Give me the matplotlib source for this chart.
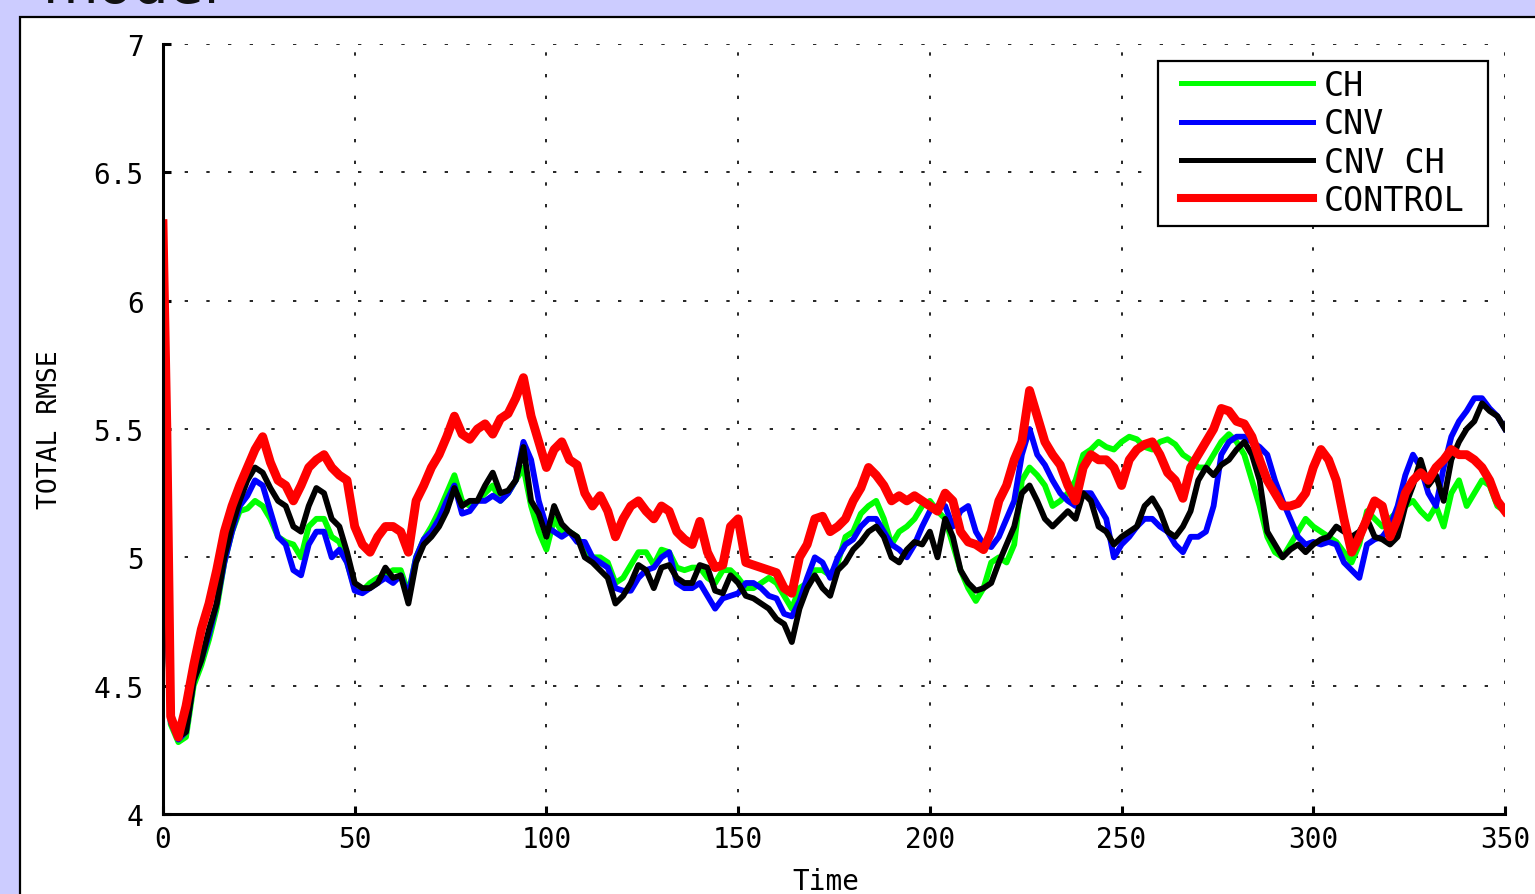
import numpy as np
import matplotlib.pyplot as plt
from matplotlib.patches import Rectangle

# Time axis: t = 0, 1, then every 2 steps up to 350
time = np.array([0, 1] + list(range(2, 351, 2)))

ch = [5.25, 4.80, 4.35, 4.28, 4.30, 4.50, 4.58, 4.68, 4.80, 4.98, 5.10, 5.18, 5.19, 5.22, 5.20,
      5.15, 5.08, 5.06, 5.05, 5.00, 5.12, 5.15, 5.15, 5.08, 5.06, 4.98, 4.88, 4.87, 4.90, 4.92,
      4.93, 4.95, 4.95, 4.86, 5.00, 5.07, 5.12, 5.18, 5.25, 5.32, 5.22, 5.20, 5.22, 5.25, 5.28,
      5.22, 5.25, 5.30, 5.35, 5.20, 5.10, 5.03, 5.15, 5.10, 5.10, 5.08, 5.03, 5.00, 5.00, 4.98,
      4.90, 4.92, 4.97, 5.02, 5.02, 4.97, 5.03, 5.02, 4.96, 4.95, 4.96, 4.96, 4.92, 4.90, 4.95,
      4.95, 4.92, 4.88, 4.88, 4.90, 4.92, 4.90, 4.85, 4.80, 4.88, 4.90, 4.95, 4.95, 4.93, 4.98,
      5.08, 5.10, 5.17, 5.20, 5.22, 5.15, 5.05, 5.10, 5.12, 5.15, 5.20, 5.22, 5.18, 5.15, 5.05,
      4.95, 4.88, 4.83, 4.88, 4.98, 5.00, 4.98, 5.05, 5.30, 5.35, 5.32, 5.28, 5.20, 5.22, 5.25,
      5.30, 5.40, 5.42, 5.45, 5.43, 5.42, 5.45, 5.47, 5.46, 5.43, 5.42, 5.45, 5.46, 5.44, 5.40,
      5.38, 5.35, 5.35, 5.40, 5.45, 5.48, 5.45, 5.40, 5.30, 5.20, 5.08, 5.02, 5.00, 5.05, 5.10,
      5.15, 5.12, 5.10, 5.08, 5.06, 5.02, 4.98, 5.05, 5.18, 5.15, 5.12, 5.15, 5.18, 5.20, 5.22,
      5.18, 5.15, 5.20, 5.12, 5.25, 5.30, 5.20, 5.25, 5.30, 5.28, 5.20, 5.18]

cnv = [5.25, 4.80, 4.36, 4.29, 4.32, 4.52, 4.60, 4.70, 4.82, 4.98, 5.10, 5.20, 5.24, 5.30, 5.28,
       5.18, 5.08, 5.05, 4.95, 4.93, 5.05, 5.10, 5.10, 5.00, 5.03, 4.98, 4.87, 4.86, 4.88, 4.90,
       4.92, 4.90, 4.93, 4.85, 5.00, 5.07, 5.10, 5.15, 5.22, 5.28, 5.17, 5.18, 5.22, 5.22, 5.24,
       5.22, 5.25, 5.30, 5.45, 5.38, 5.22, 5.12, 5.10, 5.08, 5.10, 5.06, 5.06, 5.00, 4.98, 4.96,
       4.88, 4.87, 4.87, 4.92, 4.95, 4.96, 5.00, 5.02, 4.90, 4.88, 4.88, 4.90, 4.85, 4.80, 4.84,
       4.85, 4.86, 4.90, 4.90, 4.88, 4.85, 4.84, 4.78, 4.77, 4.83, 4.92, 5.00, 4.98, 4.92, 5.00,
       5.05, 5.07, 5.12, 5.15, 5.15, 5.10, 5.05, 5.03, 5.00, 5.05, 5.12, 5.18, 5.20, 5.20, 5.12,
       5.18, 5.20, 5.10, 5.05, 5.04, 5.08, 5.15, 5.22, 5.40, 5.50, 5.40, 5.36, 5.30, 5.25, 5.22,
       5.20, 5.25, 5.25, 5.20, 5.15, 5.00, 5.05, 5.08, 5.12, 5.15, 5.15, 5.12, 5.10, 5.05, 5.02,
       5.08, 5.08, 5.10, 5.20, 5.40, 5.45, 5.47, 5.47, 5.45, 5.43, 5.40, 5.30, 5.22, 5.15, 5.08,
       5.05, 5.06, 5.05, 5.06, 5.05, 4.98, 4.95, 4.92, 5.05, 5.07, 5.08, 5.12, 5.20, 5.32, 5.40,
       5.35, 5.25, 5.20, 5.35, 5.47, 5.53, 5.57, 5.62, 5.62, 5.58, 5.55, 5.50]

cnv_ch = [5.25, 4.80, 4.38, 4.30, 4.32, 4.52, 4.60, 4.72, 4.82, 5.00, 5.12, 5.22, 5.30, 5.35, 5.33,
          5.27, 5.22, 5.20, 5.12, 5.10, 5.20, 5.27, 5.25, 5.15, 5.12, 5.02, 4.90, 4.88, 4.88, 4.90,
          4.96, 4.92, 4.93, 4.82, 4.98, 5.05, 5.08, 5.12, 5.18, 5.27, 5.20, 5.22, 5.22, 5.28, 5.33,
          5.25, 5.26, 5.30, 5.43, 5.22, 5.17, 5.08, 5.20, 5.13, 5.10, 5.08, 5.00, 4.98, 4.95, 4.92,
          4.82, 4.85, 4.90, 4.97, 4.95, 4.88, 4.96, 4.97, 4.92, 4.90, 4.90, 4.97, 4.96, 4.87, 4.86,
          4.93, 4.90, 4.85, 4.84, 4.82, 4.80, 4.76, 4.74, 4.67, 4.80, 4.88, 4.93, 4.88, 4.85, 4.95,
          4.98, 5.03, 5.06, 5.10, 5.12, 5.08, 5.00, 4.98, 5.03, 5.06, 5.05, 5.10, 5.00, 5.15, 5.08,
          4.95, 4.90, 4.87, 4.88, 4.90, 4.98, 5.05, 5.12, 5.25, 5.28, 5.22, 5.15, 5.12, 5.15, 5.18,
          5.15, 5.25, 5.22, 5.12, 5.10, 5.05, 5.08, 5.10, 5.12, 5.20, 5.23, 5.18, 5.10, 5.08, 5.12,
          5.18, 5.30, 5.35, 5.32, 5.36, 5.38, 5.42, 5.45, 5.40, 5.30, 5.10, 5.05, 5.00, 5.03, 5.05,
          5.02, 5.05, 5.07, 5.08, 5.12, 5.10, 5.08, 5.10, 5.15, 5.08, 5.07, 5.05, 5.08, 5.20, 5.28,
          5.38, 5.28, 5.32, 5.22, 5.38, 5.45, 5.50, 5.53, 5.60, 5.57, 5.55, 5.50]

control = [6.30, 5.50, 4.38, 4.30, 4.42, 4.58, 4.72, 4.82, 4.95, 5.10, 5.20, 5.28, 5.35, 5.42, 5.47,
           5.37, 5.30, 5.28, 5.22, 5.28, 5.35, 5.38, 5.40, 5.35, 5.32, 5.30, 5.12, 5.05, 5.02, 5.08,
           5.12, 5.12, 5.10, 5.02, 5.22, 5.28, 5.35, 5.40, 5.47, 5.55, 5.48, 5.46, 5.50, 5.52, 5.48,
           5.54, 5.56, 5.62, 5.70, 5.55, 5.45, 5.35, 5.42, 5.45, 5.38, 5.36, 5.25, 5.20, 5.24, 5.18,
           5.08, 5.15, 5.20, 5.22, 5.18, 5.15, 5.20, 5.18, 5.10, 5.07, 5.05, 5.14, 5.02, 4.96, 4.97,
           5.12, 5.15, 4.98, 4.97, 4.96, 4.95, 4.94, 4.88, 4.86, 5.00, 5.05, 5.15, 5.16, 5.10, 5.12,
           5.15, 5.22, 5.27, 5.35, 5.32, 5.28, 5.22, 5.24, 5.22, 5.24, 5.22, 5.20, 5.18, 5.25, 5.22,
           5.10, 5.06, 5.05, 5.03, 5.10, 5.22, 5.28, 5.38, 5.45, 5.65, 5.55, 5.45, 5.40, 5.36, 5.28,
           5.22, 5.35, 5.40, 5.38, 5.38, 5.35, 5.28, 5.38, 5.42, 5.44, 5.45, 5.40, 5.33, 5.30, 5.23,
           5.35, 5.40, 5.45, 5.50, 5.58, 5.57, 5.53, 5.52, 5.47, 5.38, 5.30, 5.25, 5.20, 5.20, 5.21,
           5.25, 5.35, 5.42, 5.38, 5.30, 5.15, 5.02, 5.08, 5.15, 5.22, 5.20, 5.08, 5.15, 5.25, 5.30,
           5.33, 5.30, 5.35, 5.38, 5.42, 5.40, 5.40, 5.38, 5.35, 5.30, 5.22, 5.18]

labels = ['CH', 'CNV', 'CNV CH', 'CONTROL']
colors = ['#00ff00', '#0000ff', '#000000', '#ff0000']
widths = [4.2, 4.2, 4.2, 6.4]
legend_widths = [3.6, 3.6, 3.6, 5.8]

mono = ['DejaVu Sans Mono']
W, H = 1535, 895

fig = plt.figure(figsize=(15.35, 8.95), dpi=100, facecolor='#ccccff')

# white panel with black border, running off the right and bottom edges
panel = Rectangle((20 / W, -0.05), 1.2, 1.05 - 18 / H, transform=fig.transFigure,
                  facecolor='white', edgecolor='black', linewidth=1.6, zorder=-1)
fig.patches.append(panel)

# cut-off title at the very top
fig.text(43 / W, 1 - 3 / H, 'model', fontsize=41, va='baseline', ha='left', color='#111111')

ax = fig.add_axes([163 / W, 1 - 815 / H, (1505 - 163) / W, (815 - 45) / H])
ax.set_facecolor('white')

series = [ch, cnv, cnv_ch, control]
lines = []
for vals, lab, col, lw in zip(series, labels, colors, widths):
    ln, = ax.plot(time, vals, color=col, linewidth=lw, label=lab)
    lines.append(ln)

ax.set_xlim(0, 350)
ax.set_ylim(4, 7)
ax.set_xticks([0, 50, 100, 150, 200, 250, 300, 350])
ax.set_yticks([4, 4.5, 5, 5.5, 6, 6.5, 7])
ax.set_yticklabels(['4', '4.5', '5', '5.5', '6', '6.5', '7'])

ax.grid(True, color='black', linestyle=(0, (2, 11)), linewidth=1.2)
ax.set_axisbelow(True)

for side in ['top', 'right']:
    ax.spines[side].set_visible(False)
for side in ['left', 'bottom']:
    ax.spines[side].set_linewidth(2.2)

ax.tick_params(axis='both', direction='in', length=6, width=2.2, labelsize=20)
ax.tick_params(axis='x', pad=8)
ax.tick_params(axis='y', pad=14)
for lbl in ax.get_xticklabels() + ax.get_yticklabels():
    lbl.set_family(mono)

ax.set_xlabel('Time', fontsize=20, family=mono)
ax.xaxis.set_label_coords(0.494, -(868 - 815) / 770)
ax.set_ylabel('TOTAL RMSE', fontsize=19, family=mono)
ax.yaxis.set_label_coords(-(163 - 63) / 1342, 0.5)

# legend box drawn by hand so the paddings match, legend entries on top of it
legend_box = Rectangle((1158 / W, 1 - 227 / H), (1488 - 1158) / W, (227 - 62) / H,
                       transform=fig.transFigure, facecolor='white', edgecolor='black',
                       linewidth=1.6, zorder=4)
fig.patches.append(legend_box)

leg = fig.legend(lines, labels, loc='upper left', bbox_to_anchor=(1181 / W, 1 - 70 / H),
                 bbox_transform=fig.transFigure, borderaxespad=0, borderpad=0,
                 prop={'family': mono, 'size': 24}, frameon=False,
                 handlelength=3.96, handletextpad=0.33, labelspacing=0.16)
leg.set_zorder(5)
for handle, lw in zip(leg.get_lines(), legend_widths):
    handle.set_linewidth(lw)

fig.savefig('out.png', dpi=100, facecolor=fig.get_facecolor())
